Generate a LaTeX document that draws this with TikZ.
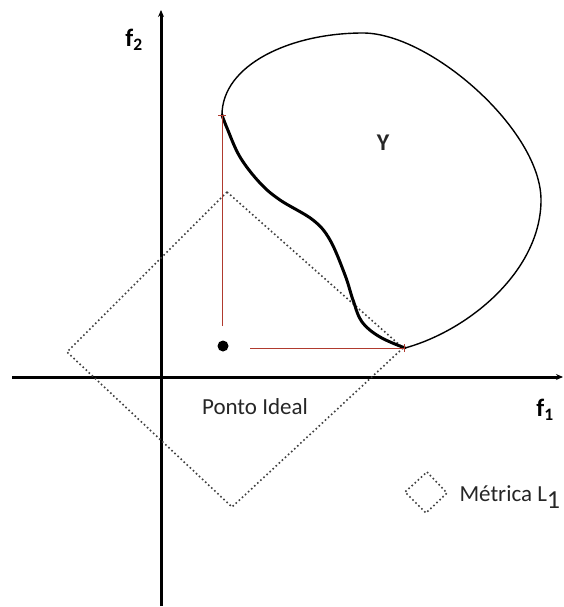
\documentclass[tikz,border=0pt]{standalone}
\usepackage{fontspec}
\setmainfont{Carlito}
\usetikzlibrary{arrows.meta}
\definecolor{redline}{HTML}{B03A2E}
\tikzset{
  axis/.style={line width=3pt,-{Stealth[length=7pt,width=6pt]}},
  metric/.style={dash pattern=on 1.6pt off 2.6pt,line width=1.6pt,black!75},
  redarrow/.style={redline,line width=0.9pt,-{Bar[width=8pt]}},
  lbl/.style={font=\fontsize{23}{26}\selectfont,text=black!85},
  axlbl/.style={font=\fontsize{25}{28}\selectfont\bfseries}
}
\begin{document}
\begin{tikzpicture}[x=1pt,y=-1pt]
\useasboundingbox (0,0) rectangle (563,607);
% axes
\coordinate (ybot) at (161,606);
\coordinate (ytop) at (161,10);
\coordinate (xleft) at (12,377);
\coordinate (xright) at (563,377);
\draw[axis] (ybot) -- (ytop);
\draw[axis] (xleft) -- (xright);
\node[axlbl] (f2) at (134,40) {f\textsubscript{2}};
\node[axlbl] (f1) at (545,410) {f\textsubscript{1}};
% L1 diamond
\coordinate (dt) at (227,192);
\coordinate (dr) at (403,348);
\coordinate (db) at (232,507);
\coordinate (dl) at (67,352);
\draw[metric] (dt) -- (dr) -- (db) -- (dl) -- cycle;
% region Y outline
\draw[line width=1.4pt] (222,115) .. controls (222,65) and (290,33) .. (363,33)
  .. controls (430,33) and (541,130) .. (541,200)
  .. controls (541,270) and (470,330) .. (405,348);
% Pareto front (thick)
\draw[line width=3pt,line cap=round] plot[smooth,tension=0.6] coordinates {
 (222,115) (227,128) (240,157) (260,183) (280,200) (313,220) (330,240)
 (345,275) (353,300) (362,322) (380,337) (405,348)};
\node[font=\fontsize{24}{26}\selectfont\bfseries,text=black!85] (Y) at (383,143) {Y};
% ideal point and red arrows
\node[circle,fill=black,inner sep=0pt,minimum size=11pt] (ideal) at (223,346) {};
\coordinate (topend) at (222,115);
\coordinate (rightend) at (405,348);
\coordinate (vstart) at (222,326);
\coordinate (hstart) at (250,348);
\draw[redarrow] (vstart) -- (topend);
\draw[redarrow] (hstart) -- (rightend);
\node[lbl] (ponto) at (255,407) {Ponto Ideal};
% legend
\coordinate (lt) at (427,472);
\coordinate (lr) at (447,493);
\coordinate (lb) at (426,513);
\coordinate (ll) at (405,492);
\draw[metric] (lt) -- (lr) -- (lb) -- (ll) -- cycle;
\node[lbl,anchor=west] (metrica) at (456,497) {Métrica L\raisebox{-7pt}{\fontsize{26}{26}\selectfont 1}};
\end{tikzpicture}
\end{document}
